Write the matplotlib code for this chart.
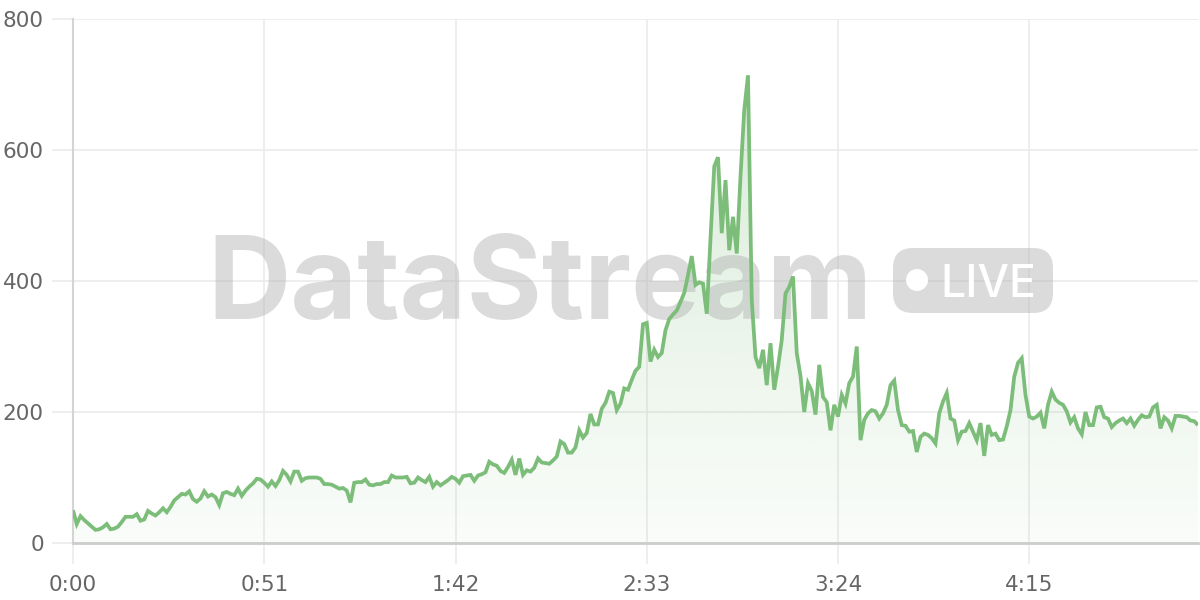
import numpy as np
import matplotlib
matplotlib.use("Agg")
import matplotlib.pyplot as plt
from matplotlib.patches import FancyBboxPatch, Circle
from matplotlib.colors import to_rgb

# ---- data (one value per second) ----
values = [
    50, 29, 41, 35, 30, 25, 20, 21, 24, 29,
    21, 22, 25, 32, 40, 40, 40, 44, 34, 36,
    49, 45, 42, 47, 53, 47, 55, 65, 70, 75,
    74, 79, 67, 63, 68, 79, 71, 74, 70, 58,
    76, 78, 75, 73, 83, 72, 80, 86, 91, 98,
    97, 92, 86, 94, 87, 96, 110, 104, 94, 109,
    109, 95, 99, 100, 100, 100, 98, 90, 90, 89,
    86, 83, 84, 80, 62, 92, 93, 93, 97, 89,
    88, 90, 90, 93, 93, 103, 100, 100, 100, 101,
    91, 92, 100, 96, 93, 101, 86, 93, 88, 92,
    96, 101, 98, 92, 102, 103, 104, 95, 103, 105,
    108, 124, 120, 118, 110, 107, 116, 127, 104, 129,
    104, 111, 109, 115, 129, 123, 122, 121, 126, 132,
    155, 151, 138, 138, 146, 172, 161, 168, 197, 181,
    181, 205, 214, 231, 229, 203, 213, 236, 234, 249,
    263, 269, 334, 336, 277, 295, 284, 290, 325, 342,
    349, 355, 368, 382, 409, 438, 394, 398, 396, 350,
    465, 575, 589, 473, 554, 447, 498, 442, 560, 661,
    714, 371, 284, 267, 295, 241, 305, 234, 269, 310,
    381, 391, 407, 290, 255, 200, 244, 232, 196, 272,
    223, 215, 172, 211, 193, 226, 213, 244, 254, 300,
    157, 188, 198, 203, 201, 190, 198, 211, 241, 248,
    203, 180, 179, 170, 171, 139, 162, 167, 165, 160,
    152, 198, 216, 229, 190, 187, 157, 170, 171, 183,
    170, 157, 183, 133, 180, 165, 167, 157, 158, 178,
    203, 254, 275, 282, 226, 193, 190, 193, 199, 175,
    211, 231, 219, 214, 211, 201, 184, 192, 175, 166,
    200, 180, 180, 207, 208, 192, 190, 177, 183, 187,
    190, 183, 190, 179, 188, 195, 192, 193, 207, 211,
    175, 192, 187, 175, 194, 194, 193, 192, 187, 186,
    180,
]
seconds = np.arange(len(values))
x_tick_seconds = [0, 51, 102, 153, 204, 255]
x_tick_labels = ["0:00", "0:51", "1:42", "2:33", "3:24", "4:15"]
y_ticks = [0, 200, 400, 600, 800]
watermark = "DataStream"
badge_text = "LIVE"

line_color = "#7cbd7a"
grid_color = "#ebebeb"

fig = plt.figure(figsize=(12, 6), dpi=100)
ax = fig.add_axes([73 / 1200, 57 / 600, 1125 / 1200, 524 / 600])
ax.set_axisbelow(True)

# gradient fill under the line
poly = ax.fill_between(seconds, values, 0, facecolor="none", edgecolor="none", lw=0)
n = 256
rgba = np.zeros((n, 1, 4))
rgba[..., :3] = to_rgb(line_color)
rgba[..., 3] = np.linspace(0.04, 0.32, n)[:, None]
im = ax.imshow(rgba, extent=[0, 300, 0, 800], origin="lower", aspect="auto",
               zorder=1.2, interpolation="bilinear")
im.set_clip_path(poly.get_paths()[0], transform=ax.transData)

ax.plot(seconds, values, color=line_color, lw=2.7, zorder=3,
        solid_joinstyle="miter", solid_capstyle="butt")

ax.set_xlim(0, 300)
ax.set_ylim(0, 800)
ax.set_xticks(x_tick_seconds)
ax.set_xticklabels(x_tick_labels)
ax.set_yticks(y_ticks)
ax.grid(True, color=grid_color, lw=1.2)
ax.tick_params(length=15, width=1.2, color=grid_color, labelsize=15.5,
               labelcolor="#666666", pad=6)
ax.tick_params(axis="x", pad=8)
for s in ["top", "right"]:
    ax.spines[s].set_visible(False)
ax.spines["left"].set_color("#d4d4d4")
ax.spines["left"].set_linewidth(1.5)
ax.spines["bottom"].set_color("#cccccc")
ax.spines["bottom"].set_linewidth(2)
ax.spines["bottom"].set_zorder(4)

# watermark
wm_color = "#b0b0b0"
wm_alpha = 0.45
ax.text(2.07, 6.0 - 3.19, watermark, transform=fig.dpi_scale_trans,
        fontsize=83, fontfamily="Inter", fontweight="bold",
        color=wm_color, alpha=wm_alpha, ha="left", va="baseline", zorder=1.5)
box = FancyBboxPatch((8.93, 6.0 - 3.13), 1.60, 0.65,
                     boxstyle="round,pad=0,rounding_size=0.2",
                     transform=fig.dpi_scale_trans, facecolor=wm_color,
                     edgecolor="none", alpha=wm_alpha, zorder=1.5)
ax.add_patch(box)
ax.add_patch(Circle((9.17, 6.0 - 2.80), 0.11, transform=fig.dpi_scale_trans,
                    facecolor="white", edgecolor="none", zorder=1.6))
ax.text(9.40, 6.0 - 2.97, badge_text, transform=fig.dpi_scale_trans,
        fontsize=32, fontfamily="Inter", fontweight="medium", color="white",
        ha="left", va="baseline", zorder=1.6)

fig.savefig("out.png", dpi=100)
